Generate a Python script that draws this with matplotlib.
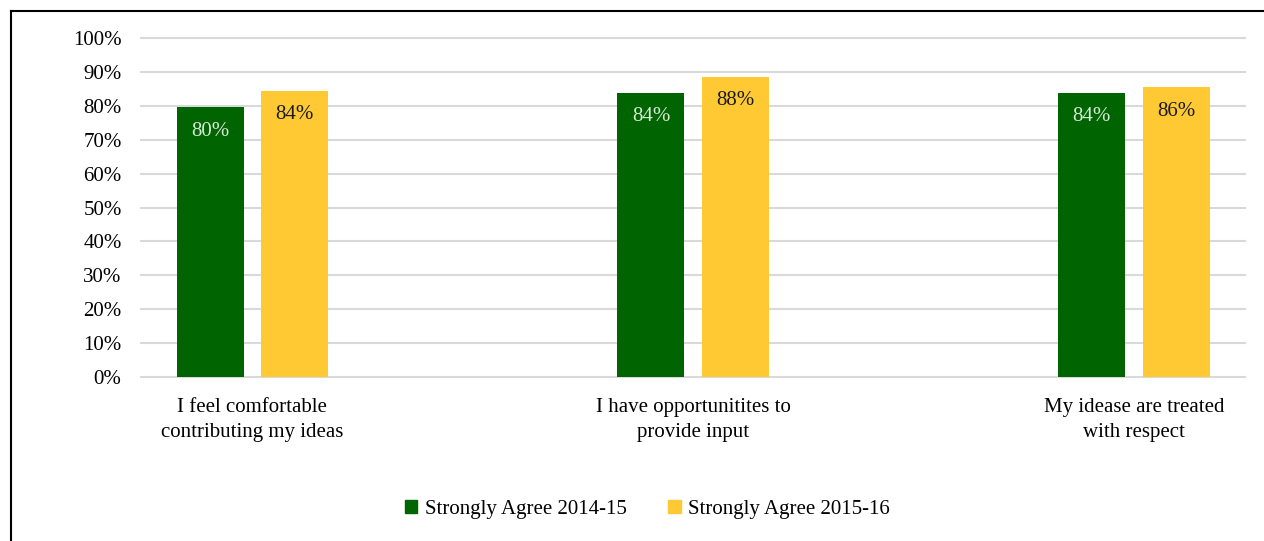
import matplotlib.pyplot as plt
from matplotlib.lines import Line2D
from matplotlib.patches import Patch
import numpy as np

categories = ["I feel comfortable\ncontributing my ideas",
              "I have opportunitites to\nprovide input",
              "My idease are treated\nwith respect"]
agree_1415 = [79.6, 83.8, 83.8]
agree_1516 = [84.4, 88.5, 85.5]
series_names = ["Strongly Agree 2014-15", "Strongly Agree 2015-16"]
yticks = [0, 10, 20, 30, 40, 50, 60, 70, 80, 90, 100]

green = "#006400"
yellow = "#FFC933"

plt.rcParams['font.family'] = ['Liberation Serif', 'DejaVu Serif']

fig = plt.figure(figsize=(12.64, 5.41), dpi=100)
ax = fig.add_axes([0.1116, 0.3031, 0.8734, 0.6267])

x = np.arange(len(categories))
w = 0.152
off = 0.0955
b1 = ax.bar(x - off, agree_1415, w, color=green, zorder=3)
b2 = ax.bar(x + off, agree_1516, w, color=yellow, zorder=3)

# value labels sit just inside the top of each bar
for bars, vals, col in [(b1, agree_1415, "#d6ead6"), (b2, agree_1516, "#1a1a1a")]:
    for rect, v in zip(bars, vals):
        ax.annotate(f"{v:.0f}%", (rect.get_x() + rect.get_width() / 2, v),
                    xytext=(0, -24), textcoords="offset pixels",
                    ha="center", va="center", fontsize=15, color=col, zorder=4)

ax.set_xlim(-0.252, 2.252)
ax.set_ylim(0, 100)
ax.set_yticks(yticks)
ax.set_yticklabels([f"{t}%" for t in yticks], fontsize=15)
ax.set_xticks(x)
ax.set_xticklabels(categories, fontsize=15, linespacing=1.45)
ax.tick_params(axis="x", length=0, pad=15)
ax.tick_params(axis="y", length=0, pad=14)
ax.yaxis.grid(True, color="#d9d9d9", linewidth=1.5, zorder=0)
for gl in ax.get_ygridlines():
    gl.set_clip_on(False)
for s in ax.spines.values():
    s.set_visible(False)

fig.legend(handles=[Patch(color=green), Patch(color=yellow)], labels=series_names,
           loc="center", bbox_to_anchor=(0.512, 0.059), ncol=2, frameon=False,
           fontsize=15, handlelength=0.6, handleheight=0.6, handletextpad=0.35,
           columnspacing=2.0)

# outer frame, only the top and left edges
fig.add_artist(Line2D([0.0087, 0.0087], [0, 0.9797], color="black", linewidth=1.5))
fig.add_artist(Line2D([0.0087, 1], [0.9797, 0.9797], color="black", linewidth=1.5))

fig.savefig("out.png", dpi=100)
